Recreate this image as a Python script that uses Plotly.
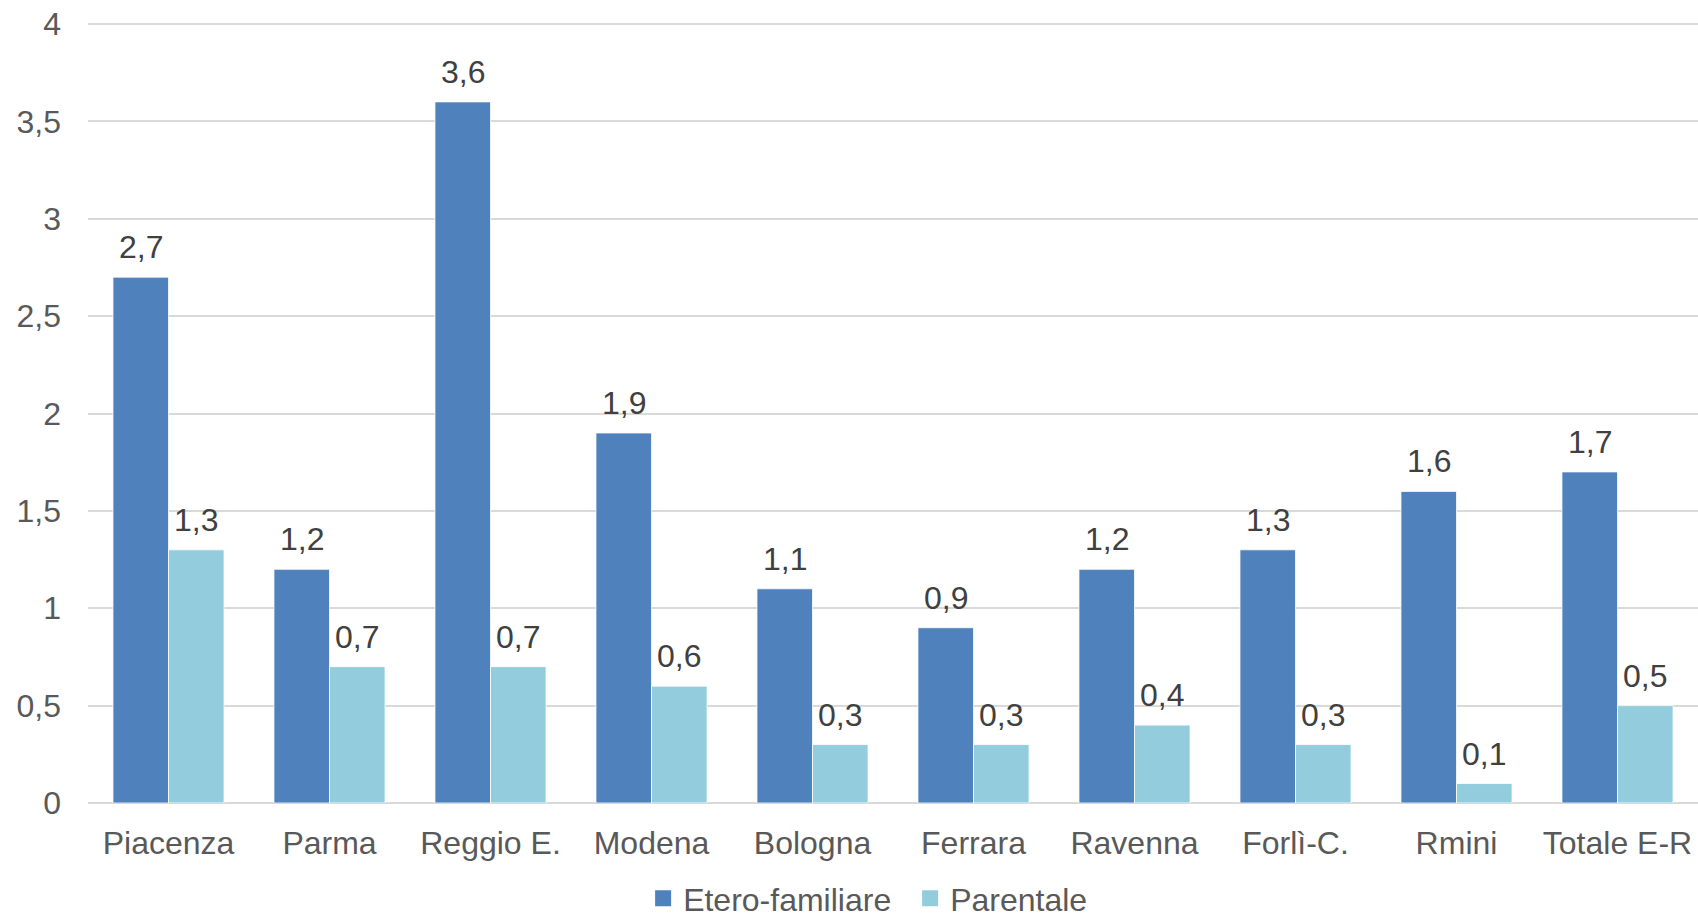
import plotly.graph_objects as go

categories = ["Piacenza", "Parma", "Reggio E.", "Modena", "Bologna", "Ferrara",
              "Ravenna", "Forlì-C.", "Rmini", "Totale E-R"]
etero = [2.7, 1.2, 3.6, 1.9, 1.1, 0.9, 1.2, 1.3, 1.6, 1.7]
parentale = [1.3, 0.7, 0.7, 0.6, 0.3, 0.3, 0.4, 0.3, 0.1, 0.5]
series_names = ["Etero-familiare", "Parentale"]
y_ticks = [0, 0.5, 1, 1.5, 2, 2.5, 3, 3.5, 4]

C_DARK = "#4F81BD"
C_LIGHT = "#93CDDD"
FONT = "Liberation Sans, Arial, sans-serif"
FS = 32
BARGAP = 0.31

def fmt(v):
    s = ("%g" % v)
    return s.replace(".", ",")

fig = go.Figure()
for name, vals, col in ((series_names[0], etero, C_DARK), (series_names[1], parentale, C_LIGHT)):
    fig.add_trace(go.Bar(x=categories, y=vals, name=name, showlegend=False,
                         marker=dict(color=col, line=dict(color="white", width=0.8))))
# legend proxies with larger square symbols
for name, col in ((series_names[0], C_DARK), (series_names[1], C_LIGHT)):
    fig.add_trace(go.Scatter(x=[None], y=[None], mode="markers", name=name,
                             marker=dict(symbol="square", size=17, color=col)))

half = (1 - BARGAP) / 4
for i, (a, b) in enumerate(zip(etero, parentale)):
    for off, v in ((-half, a), (half, b)):
        fig.add_annotation(x=i + off, y=v, xref="x", yref="y", text=fmt(v),
                           showarrow=False, yanchor="bottom", yshift=10,
                           font=dict(family=FONT, size=FS, color="#404040"))

fig.update_layout(
    width=1698, height=914,
    margin=dict(l=88, r=0, t=20, b=111, autoexpand=False),
    paper_bgcolor="white", plot_bgcolor="white",
    barmode="group", bargap=BARGAP, bargroupgap=0,
    font=dict(family=FONT, size=FS, color="#595959"),
    showlegend=True,
    legend=dict(orientation="h", x=0.536, xanchor="center", xref="container",
                y=0.017, yanchor="middle", yref="container",
                font=dict(size=FS, color="#595959"), itemsizing="trace",
                itemwidth=30, entrywidth=222, traceorder="normal"),
)
fig.update_xaxes(showgrid=False, showline=False, ticks="", ticklabelstandoff=18,
                 automargin=False, tickfont=dict(size=FS, color="#595959"))
fig.update_yaxes(range=[0, 4.0205], tickvals=y_ticks, ticktext=[fmt(v) for v in y_ticks],
                 showgrid=True, gridcolor="#D9D9D9", gridwidth=2,
                 zeroline=True, zerolinecolor="#D9D9D9", zerolinewidth=2,
                 showline=False, ticks="", ticklabelstandoff=26, automargin=False,
                 tickfont=dict(size=FS, color="#595959"))

fig.write_html("out.html", config={"displayModeBar": False},
               post_script="document.body.style.margin='0';document.body.style.overflow='hidden';")
